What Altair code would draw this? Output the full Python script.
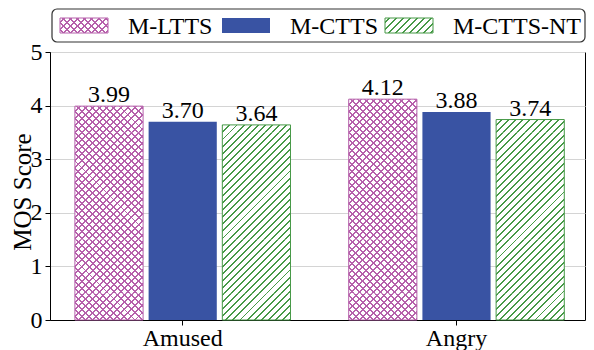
import math
import altair as alt
import pandas as pd

# ---------------- data ----------------
emotions = ["Amused", "Angry"]
models = ["M-LTTS", "M-CTTS", "M-CTTS-NT"]
score_mltts = [3.99, 4.12]
score_mctts = [3.70, 3.88]
score_mctts_nt = [3.64, 3.74]
y_ticks = [0, 1, 2, 3, 4, 5]

# ---------------- style / layout ----------------
PINK = "#b660ab"
BLUE = "#3953a3"
GREEN = "#479947"
CLEAR = "rgba(255,255,255,0)"
FONT = "Liberation Serif"
W, H = 535, 268
Y_MAX = 5
PI_X, PO_X, ALIGN_X = 0.2126, 0.0833, 0.546
PI_O = 0.075
PERIOD, LW = 5.0, 1.4
SEG_CUTS = [0.5, 1.5, 2.5, 3.5, 4.5]   # hatch drawn in pieces (gradient precision)

step_x = W / (len(emotions) - PI_X + 2 * PO_X)
bw_x = step_x * (1 - PI_X)
step_o = bw_x / (len(models) - PI_O)
bar_w = step_o * (1 - PI_O)
px = H / Y_MAX


def hatch(w, h, d, color, bg, direction):
    """45-degree stripes as a linear gradient; d = pixel distance from bar bottom to piece bottom."""
    r = h / w
    a = (1 + r) / (1 + r * r)
    Q = PERIOD * math.sqrt(2)
    span = w + h
    if direction == "/":
        x1, y1, x2, y2 = 0, 0, a, a * r
        ref = d + h + Q / 2
    else:
        x1, y1, x2, y2 = 0, 1, a, 1 - a * r
        ref = -d + Q / 2
    hw = LW * math.sqrt(2) / 2
    k0 = math.floor(-ref / Q) - 1
    stops = [alt.GradientStop(color=bg, offset=0)]
    k = k0
    while True:
        c = ref + k * Q
        k += 1
        if c - hw > span:
            break
        lo, hi = max(0.0, (c - hw) / span), min(1.0, (c + hw) / span)
        if hi <= 0 or lo >= 1:
            continue
        stops += [
            alt.GradientStop(color=bg, offset=lo),
            alt.GradientStop(color=color, offset=lo),
            alt.GradientStop(color=color, offset=hi),
            alt.GradientStop(color=bg, offset=hi),
        ]
    stops.append(alt.GradientStop(color=bg, offset=1))
    return alt.LinearGradient(gradient="linear", stops=stops, x1=x1, y1=y1, x2=x2, y2=y2)


series = {"M-LTTS": score_mltts, "M-CTTS": score_mctts, "M-CTTS-NT": score_mctts_nt}
rows = []
for i, e in enumerate(emotions):
    for m in models:
        rows.append({"emotion": e, "model": m, "score": series[m][i]})
df = pd.DataFrame(rows)

seg_rows = []
for i, e in enumerate(emotions):
    for m in ("M-LTTS", "M-CTTS-NT"):
        v = series[m][i]
        cuts = [0.0] + [c for c in SEG_CUTS if c < v] + [v]
        for lo, hi in zip(cuts[:-1], cuts[1:]):
            seg_rows.append({"emotion": e, "model": m, "lo": lo, "hi": hi})
seg_df = pd.DataFrame(seg_rows)

x_enc = alt.X(
    "emotion:N",
    sort=emotions,
    scale=alt.Scale(domain=emotions, paddingInner=PI_X, paddingOuter=PO_X, align=ALIGN_X),
    axis=alt.Axis(title=None, labelAngle=0, grid=False, labelBaseline="alphabetic", labelPadding=20),
)
xo_enc = alt.XOffset("model:N", scale=alt.Scale(domain=models, paddingInner=PI_O, paddingOuter=0))
y_scale = alt.Scale(domain=[0, Y_MAX], nice=False)
y_axis = alt.Axis(values=y_ticks, title="MOS Score", grid=True, titleFontSize=25,
                  titleFont=FONT, titleFontWeight="normal", titleColor="black",
                  titleX=-20, titleY=H / 2 + 5.5, titleBaseline="alphabetic", titleAngle=270,
                  titleAlign="center", labelPadding=3)

base = alt.Chart(df).encode(x=x_enc, xOffset=xo_enc,
                            y=alt.Y("score:Q", scale=y_scale, axis=y_axis))
seg_base = alt.Chart(seg_df).encode(x=x_enc, xOffset=xo_enc,
                                    y=alt.Y("lo:Q", scale=y_scale, axis=y_axis), y2="hi:Q")

layers = []
for r_ in seg_rows:
    col = PINK if r_["model"] == "M-LTTS" else GREEN
    h = (r_["hi"] - r_["lo"]) * px
    d = r_["lo"] * px
    sel = seg_base.transform_filter(
        (alt.datum.emotion == r_["emotion"]) & (alt.datum.model == r_["model"]) & (alt.datum.lo == r_["lo"])
    )
    layers.append(sel.mark_bar(fill=hatch(bar_w, h, d, col, "white", "/")))
    if col == PINK:
        layers.append(sel.mark_bar(fill=hatch(bar_w, h, d, col, CLEAR, "\\")))

for m, col in (("M-LTTS", PINK), ("M-CTTS-NT", GREEN)):
    layers.append(base.transform_filter(alt.datum.model == m)
                  .mark_bar(fillOpacity=0, stroke=col, strokeWidth=1))

layers.append(base.transform_filter(alt.datum.model == "M-CTTS").mark_bar(fill=BLUE))
layers.append(
    base.mark_text(dy=-4, baseline="alphabetic", fontSize=24, font=FONT, color="black")
    .encode(text=alt.Text("score:Q", format=".2f"))
)

# ---------------- legend (manual, hatched swatches) ----------------
one = pd.DataFrame({"k": [0]})
LEG_TOP, LEG_BOT = -43, -10
layers.append(
    alt.Chart(one).mark_rect(fill="white", stroke="#333333", strokeWidth=1.2, cornerRadius=5)
    .encode(x=alt.value(2), x2=alt.value(W), y=alt.value(LEG_TOP), y2=alt.value(LEG_BOT))
)
SW_W, SW_H = 48, 15
mid = (LEG_TOP + LEG_BOT) / 2
sw_y = mid - SW_H / 2
leg_items = [("M-LTTS", PINK, 10, 78), ("M-CTTS", BLUE, 172, 240), ("M-CTTS-NT", GREEN, 335, 403)]
for label, col, sx, tx in leg_items:
    rect = alt.Chart(one).encode(x=alt.value(sx), x2=alt.value(sx + SW_W),
                                 y=alt.value(sw_y), y2=alt.value(sw_y + SW_H))
    if col == BLUE:
        layers.append(rect.mark_rect(fill=BLUE))
    else:
        layers.append(rect.mark_rect(fill=hatch(SW_W, SW_H, 0, col, "white", "/"), stroke=col, strokeWidth=1))
        if col == PINK:
            layers.append(rect.mark_rect(fill=hatch(SW_W, SW_H, 0, col, CLEAR, "\\")))
    layers.append(
        alt.Chart(one).mark_text(align="left", baseline="alphabetic", fontSize=24, font=FONT, color="black")
        .encode(x=alt.value(tx), y=alt.value(mid + 8), text=alt.value(label))
    )

chart = (
    alt.layer(*layers)
    .properties(width=W, height=H, autosize=alt.AutoSizeParams(type="none"),
                padding={"left": 42, "top": 44, "right": 1, "bottom": 30})
    .configure_view(stroke="black", strokeWidth=1)
    .configure_axis(
        labelFont=FONT, labelFontSize=24, labelColor="black",
        domainColor="black", tickColor="black", tickSize=5, tickWidth=1,
        gridColor="#d4d4d4", gridWidth=1,
    )
)

chart.save("out.html", embed_options={"renderer": "svg", "actions": False})
